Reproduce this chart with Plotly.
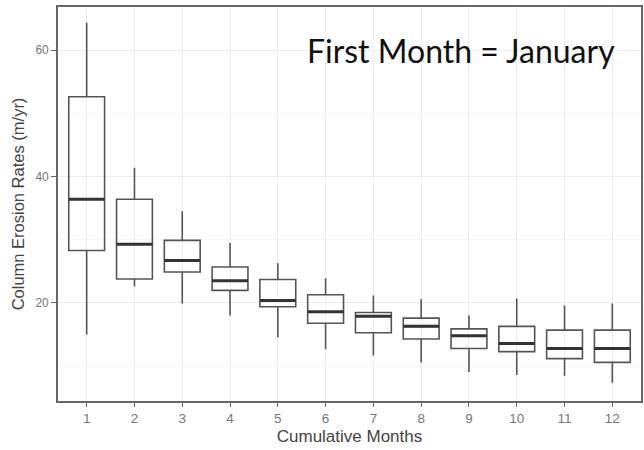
import plotly.graph_objects as go

# Cumulative months and erosion-rate box statistics (m/yr)
months = [1, 2, 3, 4, 5, 6, 7, 8, 9, 10, 11, 12]
lower_whisker = [15.0, 22.6, 19.9, 18.0, 14.6, 12.7, 11.7, 10.6, 9.1, 8.6, 8.5, 7.4]
q1 = [28.3, 23.8, 24.9, 22.0, 19.4, 16.8, 15.3, 14.3, 12.8, 12.3, 11.2, 10.6]
median = [36.4, 29.3, 26.7, 23.5, 20.4, 18.6, 17.9, 16.3, 14.8, 13.6, 12.8, 12.8]
q3 = [52.6, 36.4, 29.9, 25.7, 23.7, 21.3, 18.5, 17.6, 15.9, 16.3, 15.7, 15.7]
upper_whisker = [64.3, 41.4, 34.5, 29.5, 26.3, 23.9, 21.2, 20.6, 18.0, 20.7, 19.6, 19.9]
y_ticks = [20, 40, 60]

BOX_WIDTH = 0.75
LINE = "#555555"

fig = go.Figure()

fig.add_trace(go.Box(
    x=months,
    q1=q1,
    median=median,
    q3=q3,
    lowerfence=lower_whisker,
    upperfence=upper_whisker,
    width=BOX_WIDTH,
    whiskerwidth=0,
    boxpoints=False,
    fillcolor="rgba(255,255,255,0)",
    line=dict(color=LINE, width=1.6),
    hoverinfo="skip",
    showlegend=False,
))

# Thicker median bars, drawn over each box
mx, my = [], []
for m, med in zip(months, median):
    mx += [m - BOX_WIDTH / 2, m + BOX_WIDTH / 2, None]
    my += [med, med, None]
fig.add_trace(go.Scatter(
    x=mx, y=my, mode="lines",
    line=dict(color="#333333", width=3),
    hoverinfo="skip", showlegend=False,
))

fig.add_annotation(
    text="First Month = January",
    xref="paper", yref="paper",
    x=0.9596, y=0.8896,
    xanchor="right", yanchor="middle",
    showarrow=False,
    font=dict(family="Lato", size=32, color="#111111"),
)

fig.update_layout(
    width=644, height=450,
    margin=dict(l=58, r=1, t=7, b=49),
    paper_bgcolor="white",
    plot_bgcolor="white",
    font=dict(family="Liberation Sans, Arial, sans-serif"),
)

fig.update_xaxes(
    range=[0.4, 12.6],
    tickmode="array",
    tickvals=months,
    ticktext=[str(m) for m in months],
    showgrid=True, gridcolor="#EDEDED", gridwidth=1.2,
    zeroline=False,
    showline=True, mirror=True, linecolor="#666666", linewidth=1.6,
    ticks="outside", ticklen=4, tickcolor="#666666", tickwidth=1.2,
    tickfont=dict(size=13.5, color="#777777"),
    title=dict(text="Cumulative Months", font=dict(size=17, color="#444444"), standoff=5),
)

fig.update_yaxes(
    range=[4.5, 66.8],
    tickmode="array",
    tickvals=y_ticks,
    showgrid=True, gridcolor="#EDEDED", gridwidth=1.2,
    minor=dict(dtick=10, tick0=0, showgrid=True, gridcolor="#F5F5F5", gridwidth=1),
    zeroline=False,
    showline=True, mirror=True, linecolor="#666666", linewidth=1.6,
    ticks="outside", ticklen=5, tickcolor="#666666", tickwidth=1.2,
    tickfont=dict(size=12, color="#777777"),
    title=dict(text="Column Erosion Rates (m/yr)", font=dict(size=16.5, color="#444444"), standoff=7),
)

fig.write_html("out.html")
